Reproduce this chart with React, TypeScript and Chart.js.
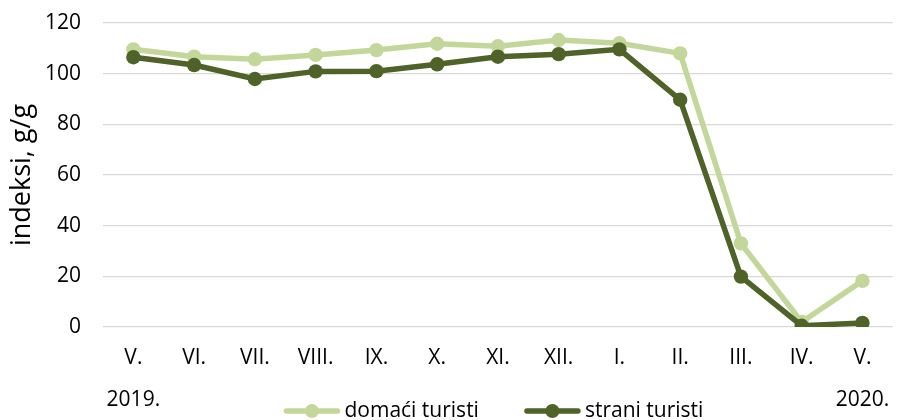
import React, { useEffect, useRef } from "react";
import { Chart, registerables } from "chart.js";

Chart.register(...registerables);

// ---- data ----
const months = ["V.", "VI.", "VII.", "VIII.", "IX.", "X.", "XI.", "XII.", "I.", "II.", "III.", "IV.", "V."];
const years = ["2019.", "", "", "", "", "", "", "", "", "", "", "", "2020."];
const domaciTuristi = [109.6, 106.7, 105.7, 107.4, 109.3, 111.8, 110.8, 113.3, 112.0, 108.0, 33.0, 2.0, 18.2];
const straniTuristi = [106.5, 103.4, 97.9, 100.9, 101.0, 103.7, 106.7, 107.7, 109.6, 89.7, 19.9, 0.5, 1.6];
const seriesNames = ["domaći turisti", "strani turisti"];
const yAxisTitle = "indeksi, g/g";
const yMin = 0;
const yMax = 120;
const yStep = 20;

// ---- styles ----
const FONT = "'Open Sans', 'DejaVu Sans', sans-serif";
const LIGHT = "#C4D79B";
const DARK = "#4F6228";
const TEXT = "#000000";
const GRID = "#D9D9D9";

const bottomLegend = {
  id: "bottomLegend",
  afterDraw(chart: any) {
    const ctx: CanvasRenderingContext2D = chart.ctx;
    const area = chart.chartArea;
    const markerW = 55;
    const gapText = 5;
    const gapItems = 46;
    ctx.save();
    ctx.font = `21px ${FONT}`;
    const items = chart.data.datasets.map((ds: any) => {
      const tw = ctx.measureText(ds.label).width;
      return { text: ds.label, color: ds.borderColor, tw, w: markerW + gapText + tw };
    });
    const total = items.reduce((s: number, it: any) => s + it.w, 0) + gapItems * (items.length - 1);
    let x = (area.left + area.right) / 2 - 4 - total / 2;
    const y = area.bottom + 84;
    for (const it of items) {
      ctx.strokeStyle = it.color;
      ctx.fillStyle = it.color;
      ctx.lineWidth = 5.5;
      ctx.lineCap = "round";
      ctx.beginPath();
      ctx.moveTo(x + 2, y);
      ctx.lineTo(x + markerW - 2, y);
      ctx.stroke();
      ctx.beginPath();
      ctx.arc(x + markerW / 2, y, 7, 0, Math.PI * 2);
      ctx.fill();
      ctx.fillStyle = TEXT;
      ctx.textAlign = "left";
      ctx.textBaseline = "middle";
      ctx.fillText(it.text, x + markerW + gapText, y);
      x += it.w + gapItems;
    }
    ctx.restore();
  },
};

export default function App() {
  const canvasRef = useRef<HTMLCanvasElement | null>(null);

  useEffect(() => {
    if (!canvasRef.current) return;
    const chart = new Chart(canvasRef.current, {
      type: "line",
      data: {
        labels: months,
        datasets: [
          {
            label: seriesNames[0],
            data: domaciTuristi,
            borderColor: LIGHT,
            backgroundColor: LIGHT,
            pointBackgroundColor: LIGHT,
            pointBorderColor: LIGHT,
            borderWidth: 5.5,
            pointRadius: 7.2,
            pointBorderWidth: 0,
            tension: 0,
            order: 1,
          },
          {
            label: seriesNames[1],
            data: straniTuristi,
            borderColor: DARK,
            backgroundColor: DARK,
            pointBackgroundColor: DARK,
            pointBorderColor: DARK,
            borderWidth: 5.5,
            pointRadius: 7.2,
            pointBorderWidth: 0,
            tension: 0,
            order: 0,
          },
        ],
      },
      options: {
        animation: false,
        responsive: true,
        maintainAspectRatio: false,
        layout: { padding: { top: 23, right: 1, left: 0, bottom: 0 } },
        scales: {
          x: {
            offset: true,
            grid: { display: false, drawTicks: false },
            border: { display: false },
            ticks: {
              autoSkip: false,
              maxRotation: 0,
              minRotation: 0,
              padding: 10,
              color: TEXT,
              font: { family: FONT, size: 21, lineHeight: "42px" },
              callback: (_v: any, i: number) => (years[i] ? [months[i], years[i]] : months[i]),
            },
            afterFit: (scale: any) => {
              scale.height = 93;
              scale.paddingLeft = 0;
              scale.paddingRight = 0;
            },
          },
          y: {
            min: yMin,
            max: yMax,
            grid: { color: GRID, lineWidth: 1.3, drawTicks: false },
            border: { display: false },
            ticks: {
              stepSize: yStep,
              padding: 22,
              color: TEXT,
              font: { family: FONT, size: 21 },
            },
            title: {
              display: true,
              text: yAxisTitle,
              color: TEXT,
              font: { family: FONT, size: 27 },
              padding: { top: 6, bottom: 0 },
            },
            afterFit: (scale: any) => {
              scale.width = 103;
              scale.paddingTop = 0;
              scale.paddingBottom = 0;
            },
          },
        },
        plugins: {
          tooltip: { enabled: false },
          legend: { display: false },
        },
      },
      plugins: [bottomLegend],
    } as any);
    return () => chart.destroy();
  }, []);

  return (
    <div style={{ position: "absolute", left: 0, top: 0, width: 900, height: 420, background: "#fff" }}>
      <canvas ref={canvasRef} />
    </div>
  );
}
